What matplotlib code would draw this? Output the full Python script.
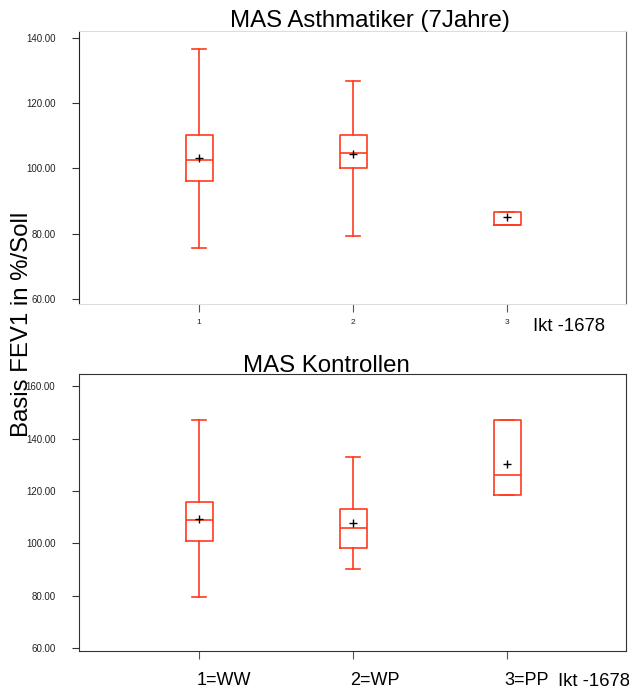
import matplotlib
matplotlib.use("Agg")
import matplotlib.pyplot as plt
from matplotlib.ticker import FormatStrFormatter

plt.rcParams['font.family'] = ['Liberation Sans', 'DejaVu Sans']

positions = [1, 2, 3]
top_labels = ["1", "2", "3"]
bottom_labels = ["1=WW", "2=WP", "3=PP"]

# MAS Asthmatiker (7Jahre)
top_q1 = [96.1, 100.1, 82.6]
top_med = [102.5, 104.8, 82.6]
top_q3 = [110.4, 110.4, 86.6]
top_whislo = [75.7, 79.3, 82.6]
top_whishi = [136.7, 126.8, 86.6]
top_mean = [103.1, 104.3, 85.2]

# MAS Kontrollen
bot_q1 = [100.8, 98.4, 118.3]
bot_med = [108.9, 105.9, 126.0]
bot_q3 = [116.0, 113.0, 147.1]
bot_whislo = [79.6, 90.2, 118.3]
bot_whishi = [147.1, 132.9, 147.1]
bot_mean = [109.2, 107.9, 130.3]

RED = '#ff3b1f'

fig = plt.figure(figsize=(6.29, 6.90), dpi=100)
ax1 = fig.add_axes([79/629, 1-304/690, 547/629, 273/690])
ax2 = fig.add_axes([79/629, 1-651/690, 547/629, 276.7/690])


def make_stats(q1, med, q3, lo, hi, mean):
    return [dict(q1=a, med=b, q3=c, whislo=d, whishi=e, mean=f, fliers=[])
            for a, b, c, d, e, f in zip(q1, med, q3, lo, hi, mean)]


def draw(ax, stats):
    lp = dict(color=RED, linewidth=1.2)
    ax.bxp(stats, positions=positions, widths=0.173, showmeans=True,
           showfliers=False, boxprops=lp, whiskerprops=lp, capprops=lp,
           medianprops=lp, capwidths=0.09,
           meanprops=dict(marker='+', markeredgecolor='black',
                          markerfacecolor='black', markersize=6,
                          markeredgewidth=1.0))
    ax.set_xlim(0.22, 3.77)
    ax.yaxis.set_major_formatter(FormatStrFormatter('%.2f'))
    ax.tick_params(axis='y', labelsize=7, length=5, pad=12, color='#333333',
                   labelcolor='#222222')


draw(ax1, make_stats(top_q1, top_med, top_q3, top_whislo, top_whishi, top_mean))
ax1.set_ylim(58.5, 142.1)
ax1.set_yticks([60, 80, 100, 120, 140])
ax1.set_xticks(positions)
ax1.set_xticklabels(top_labels)
ax1.tick_params(axis='x', labelsize=6, length=6, pad=5, color='#555555',
                labelcolor='#222222')
ax1.spines['left'].set_color('#222222')
ax1.spines['right'].set_color('#666666')
ax1.spines['top'].set_color('#dddddd')
ax1.spines['bottom'].set_color('#dddddd')

draw(ax2, make_stats(bot_q1, bot_med, bot_q3, bot_whislo, bot_whishi, bot_mean))
ax2.set_ylim(59, 164.5)
ax2.set_yticks([60, 80, 100, 120, 140, 160])
ax2.set_xticks(positions)
ax2.set_xticklabels(bottom_labels, ha='left')
ax2.tick_params(axis='x', labelsize=13, length=6, pad=9, color='#555555')
for lab in ax2.get_xticklabels():
    lab.set_x(lab.get_position()[0])
import matplotlib.transforms as mtrans
offset = mtrans.ScaledTranslation(-3/100, 0, fig.dpi_scale_trans)
for lab in ax2.get_xticklabels():
    lab.set_transform(lab.get_transform() + offset)
for s in ax2.spines.values():
    s.set_color('#333333')

fig.text(370/629, 1-27/690, "MAS Asthmatiker (7Jahre)", fontsize=17.3,
         ha='center', va='baseline')
fig.text(326.5/629, 1-372/690, "MAS Kontrollen", fontsize=17.3,
         ha='center', va='baseline')
fig.text(533/629, 1-331/690, "Ikt -1678", fontsize=13.3, ha='left',
         va='baseline')
fig.text(558/629, 1-686/690, "Ikt -1678", fontsize=13.3, ha='left',
         va='baseline')
fig.text(22/629, 1-324/690, "Basis FEV1 in %/Soll", fontsize=17.3,
         rotation=90, ha='center', va='center')

fig.savefig("out.png", dpi=100)
